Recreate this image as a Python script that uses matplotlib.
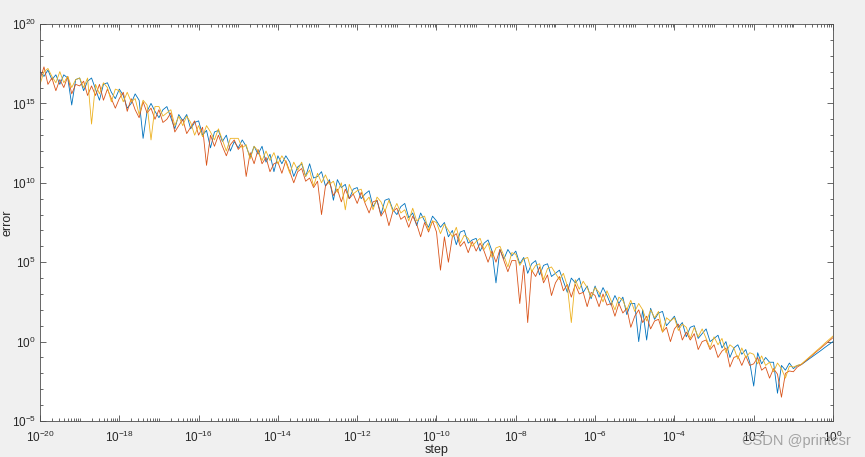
import numpy as np
import matplotlib
matplotlib.use("Agg")
import matplotlib.pyplot as plt
from matplotlib.ticker import FixedLocator, NullFormatter

plt.rcParams['font.family'] = ['Liberation Sans', 'DejaVu Sans']
plt.rcParams['axes.unicode_minus'] = False

# step exponents: 201 samples, 0.1 decade apart from 1e-20 to 1e0
step_exp = np.linspace(-20, 0, 201)

# log10(error), one row per decade
err_blue = [
    17.0, 16.7, 17.1, 16.5, 16.8, 16.2, 16.8, 16.6, 14.9, 16.5,
    16.6, 15.8, 16.4, 16.6, 15.9, 15.2, 16.2, 16.3, 15.7, 15.3,
    15.9, 15.5, 14.7, 15.0, 15.6, 15.2, 12.8, 14.5, 15.0, 14.5,
    14.1, 14.6, 14.8, 14.1, 13.4, 14.3, 13.9, 14.3, 13.4, 13.8,
    13.9, 13.0, 13.3, 12.2, 13.2, 13.3, 12.6, 13.0, 12.0, 12.6,
    12.2, 12.7, 12.3, 11.6, 12.3, 11.8, 12.3, 11.3, 11.8, 10.7,
    11.7, 11.2, 11.7, 11.3, 10.4, 11.0, 11.2, 10.4, 11.2, 10.3,
    10.4, 10.7, 9.8, 10.2, 8.9, 10.2, 9.7, 9.9, 9.0, 9.6,
    9.7, 9.0, 9.3, 9.5, 8.5, 8.9, 8.0, 8.9, 9.0, 8.3,
    8.0, 8.5, 8.7, 7.8, 8.1, 7.3, 8.1, 7.6, 7.2, 7.9,
    7.6, 7.2, 7.5, 6.6, 7.0, 6.1, 6.9, 7.0, 6.2, 6.4,
    6.5, 5.7, 6.2, 6.4, 5.7, 3.7, 5.8, 5.2, 5.8, 5.4,
    5.7, 4.9, 5.3, 4.3, 4.9, 5.1, 4.2, 4.8, 4.9, 4.1,
    4.3, 4.5, 3.8, 3.1, 4.0, 3.7, 4.0, 3.1, 3.5, 2.7,
    3.5, 2.8, 3.4, 2.9, 2.3, 2.9, 2.4, 2.8, 1.7, 2.4,
    2.4, 0.0, 2.0, 0.1, 2.1, 1.4, 1.8, 1.9, 1.0, 1.3,
    1.6, 0.9, 1.2, 0.3, 0.9, 1.0, 0.2, 0.5, 0.8, 0.0,
    0.2, 0.4, -0.4, 0.0, -1.0, -0.4, -0.2, -0.8, -0.5, -1.3,
    -2.8, -0.7, -1.4, -1.0, -1.3, -1.3, -3.25, -1.5, -1.8, -1.35,
    -1.7, -1.5, -1.45, -1.27, -1.09, -0.91, -0.73, -0.55, -0.36, -0.18,
    0.0,
]

err_orange = [
    16.5, 17.3, 16.2, 16.6, 15.8, 16.5, 16.0, 16.7, 15.6, 16.2,
    16.1, 16.4, 15.5, 16.1, 15.5, 16.2, 15.2, 15.9, 15.3, 14.7,
    15.3, 15.7, 14.5, 15.3, 14.6, 14.1, 15.1, 14.4, 14.7, 14.0,
    14.6, 13.8, 14.0, 14.4, 13.2, 13.6, 14.0, 13.1, 13.5, 13.9,
    13.0, 13.5, 11.1, 13.0, 12.3, 13.0, 12.3, 11.7, 12.4, 12.7,
    12.1, 12.4, 10.4, 11.9, 11.2, 12.1, 11.2, 11.6, 10.7, 11.2,
    11.3, 10.6, 11.4, 10.7, 10.0, 10.7, 10.9, 10.1, 10.3, 9.7,
    10.1, 8.0, 9.8, 10.1, 9.2, 9.6, 8.8, 9.6, 9.0, 9.3,
    8.7, 9.4, 8.7, 8.1, 8.8, 8.9, 7.9, 8.3, 7.3, 8.2,
    8.4, 7.7, 7.9, 7.2, 7.9, 7.4, 6.6, 7.5, 6.9, 7.6,
    6.9, 4.5, 6.6, 5.0, 6.6, 6.8, 6.0, 6.3, 5.6, 6.3,
    5.7, 6.2, 5.7, 5.0, 5.7, 5.0, 5.8, 5.1, 4.4, 5.1,
    5.1, 2.4, 4.8, 1.2, 4.5, 4.1, 4.7, 3.7, 4.2, 2.9,
    3.7, 4.1, 3.2, 3.6, 2.8, 3.6, 3.0, 3.1, 2.2, 3.1,
    2.9, 2.2, 3.0, 2.3, 2.4, 1.6, 2.4, 1.8, 2.1, 0.9,
    1.6, 2.0, 1.2, 1.6, 0.8, 1.3, 1.4, 0.6, 0.9, 0.0,
    0.8, 1.1, 0.1, 0.6, 0.1, 0.5, -0.5, 0.0, 0.1, -0.5,
    -0.2, -1.0, -0.6, -0.4, -1.6, -1.0, -0.9, -1.5, -0.9, -1.5,
    -1.4, -1.0, -1.8, -1.6, -2.3, -1.7, -2.05, -3.5, -2.0, -1.85,
    -1.9, -1.6, -1.45, -1.24, -1.03, -0.81, -0.60, -0.39, -0.18, 0.04,
    0.25,
]

err_yellow = [
    16.2, 17.0, 17.2, 16.7, 16.3, 17.0, 16.3, 16.7, 16.0, 16.5,
    16.6, 16.0, 16.6, 13.7, 16.2, 15.6, 16.3, 16.0, 15.1, 15.9,
    15.8, 15.1, 15.7, 15.1, 15.3, 14.3, 15.2, 14.9, 12.7, 14.8,
    14.8, 14.2, 14.4, 14.6, 13.6, 14.2, 13.6, 14.2, 13.8, 13.0,
    13.6, 12.9, 13.6, 13.2, 12.7, 13.4, 12.7, 12.0, 12.8, 12.8,
    12.8, 12.2, 12.4, 11.5, 12.3, 12.0, 11.4, 12.0, 11.4, 11.9,
    11.2, 11.7, 11.3, 10.6, 11.3, 10.8, 11.3, 10.4, 10.8, 9.8,
    10.6, 10.0, 10.5, 9.9, 10.1, 9.4, 10.0, 8.3, 9.9, 9.3,
    9.5, 9.6, 8.8, 9.1, 8.3, 9.1, 8.8, 8.2, 8.9, 8.2,
    8.7, 8.1, 8.3, 7.6, 8.4, 7.6, 7.8, 7.9, 7.0, 7.6,
    7.5, 6.8, 7.4, 7.0, 6.6, 7.2, 6.2, 6.7, 6.5, 6.0,
    6.3, 6.5, 5.8, 6.2, 5.3, 5.9, 6.0, 5.4, 4.7, 5.6,
    5.5, 4.8, 5.2, 5.3, 4.4, 4.8, 4.9, 3.9, 4.6, 4.7,
    4.3, 3.9, 4.3, 3.5, 1.2, 3.9, 3.3, 3.8, 3.4, 2.8,
    3.4, 3.1, 2.5, 3.2, 2.6, 2.0, 2.8, 2.6, 2.0, 2.6,
    1.9, 2.4, 2.0, 1.3, 2.0, 1.5, 1.9, 0.6, 1.5, 1.3,
    1.5, 0.7, 1.1, 0.9, 0.2, 0.9, 0.3, 0.8, 0.2, -0.4,
    0.3, -0.2, 0.2, -0.7, -0.2, -0.4, -1.1, -0.4, -1.0, -0.7,
    -0.8, -1.4, -0.9, -1.5, -1.3, -1.9, -1.35, -1.7, -2.3, -1.55,
    -1.6, -1.5, -1.42, -1.20, -0.98, -0.76, -0.54, -0.32, -0.09, 0.13,
    0.35,
]

step = 10.0 ** step_exp

fig = plt.figure(figsize=(8.65, 4.57), dpi=100, facecolor='#f0f0f0')
ax = fig.add_axes([40 / 865, 1 - 421 / 457, 793 / 865, 397 / 457])

ax.loglog(step, 10.0 ** np.array(err_blue), color='#0072BD', lw=0.6)
ax.loglog(step, 10.0 ** np.array(err_orange), color='#D95319', lw=0.6)
ax.loglog(step, 10.0 ** np.array(err_yellow), color='#EDB120', lw=0.6)

ax.set_xlim(1e-20, 1e0)
ax.set_ylim(1e-5, 1e20)

xk = list(range(-20, 1, 2))
yk = list(range(-5, 21, 5))
ax.xaxis.set_major_locator(FixedLocator([10.0 ** k for k in xk]))
ax.yaxis.set_major_locator(FixedLocator([10.0 ** k for k in yk]))
ax.set_xticklabels([r'$\mathdefault{10^{%d}}$' % k for k in xk])
ax.set_yticklabels([r'$\mathdefault{10^{%d}}$' % k for k in yk])

xmin = [m * 10.0 ** k for k in range(-20, 0) for m in range(2, 10)]
xmin += [10.0 ** k for k in range(-19, 0, 2)]
ymin = [10.0 ** k for k in range(-5, 21) if k % 5 != 0]
ax.xaxis.set_minor_locator(FixedLocator(xmin))
ax.yaxis.set_minor_locator(FixedLocator(ymin))
ax.xaxis.set_minor_formatter(NullFormatter())
ax.yaxis.set_minor_formatter(NullFormatter())

ax.tick_params(which='both', direction='in', top=True, right=True,
               colors='#4d4d4d', labelcolor='#262626', labelsize=8.5, width=0.6)
ax.tick_params(which='major', length=4.5)
ax.tick_params(which='minor', length=2.5)
ax.tick_params(axis='x', pad=6)
ax.tick_params(axis='y', pad=3)
for s in ax.spines.values():
    s.set_color('#4d4d4d')
    s.set_linewidth(0.6)

ax.set_xlabel('step', fontsize=9, color='#262626')
ax.xaxis.set_label_coords(0.5, -0.058)
ax.set_ylabel('error', fontsize=9, color='#262626')
ax.yaxis.set_label_coords(-0.033, 0.5)

fig.text(0.983, 0.035, 'CSDN @printcsr', ha='right', va='center',
         fontsize=10.5, color='#9a9a9a', alpha=0.9)

fig.savefig('out.png', dpi=100, facecolor=fig.get_facecolor())
